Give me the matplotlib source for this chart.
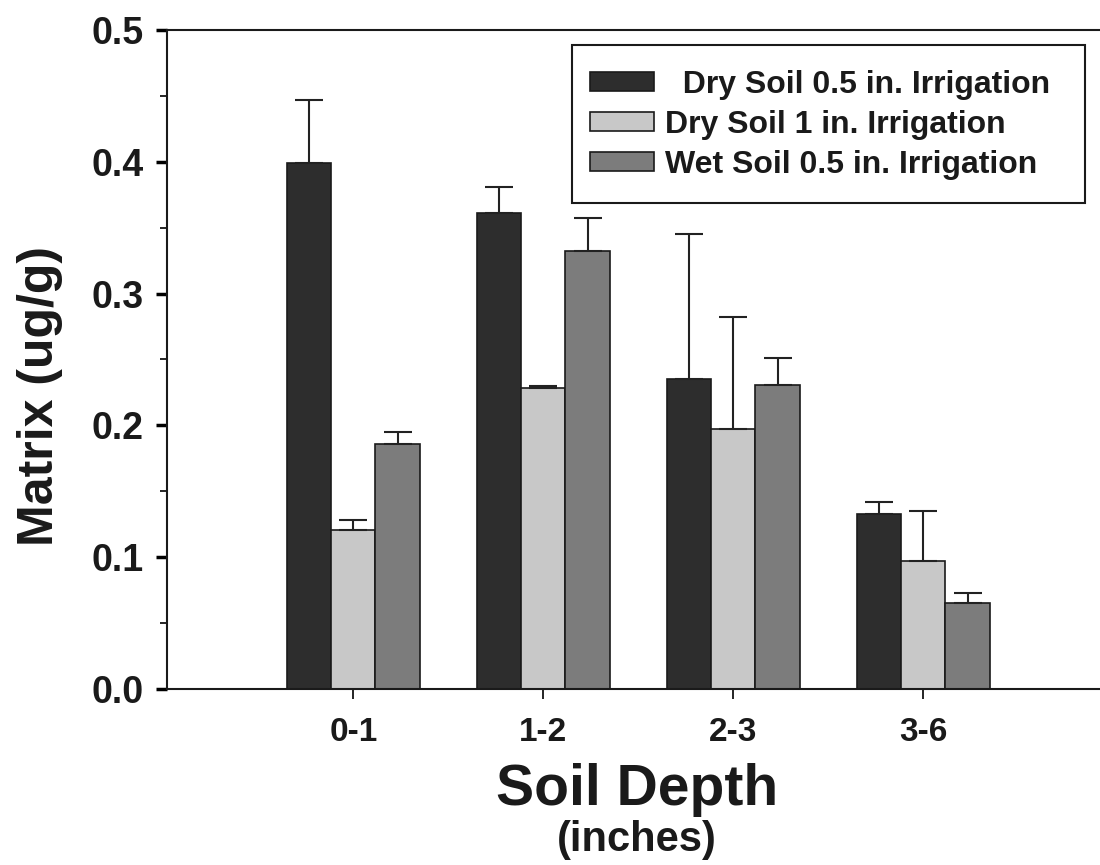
import matplotlib
matplotlib.use("Agg")
import matplotlib.pyplot as plt
import numpy as np
from matplotlib.ticker import MultipleLocator
from matplotlib.patches import Rectangle

categories = ["0-1", "1-2", "2-3", "3-6"]
series_names = ["  Dry Soil 0.5 in. Irrigation", "Dry Soil 1 in. Irrigation", "Wet Soil 0.5 in. Irrigation"]
dry_05 = [0.399, 0.361, 0.235, 0.133]
dry_05_err = [0.048, 0.020, 0.110, 0.009]
dry_1 = [0.121, 0.228, 0.197, 0.097]
dry_1_err = [0.007, 0.002, 0.085, 0.038]
wet_05 = [0.186, 0.332, 0.231, 0.065]
wet_05_err = [0.009, 0.025, 0.020, 0.008]

values = [dry_05, dry_1, wet_05]
errors = [dry_05_err, dry_1_err, wet_05_err]
colors = ["#2d2d2d", "#c8c8c8", "#7c7c7c"]

plt.rcParams['font.family'] = ['Liberation Sans', 'DejaVu Sans']
plt.rcParams['font.weight'] = 'bold'

fig = plt.figure(figsize=(11, 8.65), dpi=100)
ax = fig.add_axes([0.152, 0.2035, 0.86, 0.7618])

x = np.arange(len(categories))
w = 0.233
for i, (vals, errs, c, name) in enumerate(zip(values, errors, colors, series_names)):
    pos = x + (i - 1) * w
    ax.bar(pos, vals, width=w, color=c, edgecolor="#1a1a1a", linewidth=1.2, label=name, zorder=2)
    ax.errorbar(pos, vals, yerr=[np.zeros(len(vals)), errs], fmt="none", ecolor="#222222",
                elinewidth=1.5, capsize=10, capthick=1.5, zorder=3)

ax.set_xlim(-0.98, 4.0)
ax.set_ylim(0, 0.5)
ax.yaxis.set_major_locator(MultipleLocator(0.1))
ax.yaxis.set_minor_locator(MultipleLocator(0.05))
ax.set_yticks([0.0, 0.1, 0.2, 0.3, 0.4, 0.5])
ax.set_yticklabels(["0.0", "0.1", "0.2", "0.3", "0.4", "0.5"])
ax.set_xticks(x)
ax.set_xticklabels(categories)
ax.tick_params(axis='y', which='major', direction='out', length=8, width=2.5, labelsize=27, pad=9)
ax.tick_params(axis='y', which='minor', direction='out', length=5, width=1.2)
ax.tick_params(axis='x', which='major', direction='out', length=7, width=1.2, labelsize=24, pad=13)
for lab in ax.get_xticklabels() + ax.get_yticklabels():
    lab.set_fontweight('bold')
    lab.set_color('#1a1a1a')

ax.spines['right'].set_visible(False)
for s in ['left', 'bottom', 'top']:
    ax.spines[s].set_linewidth(1.5)
    ax.spines[s].set_color('#1a1a1a')

ax.set_ylabel("Matrix (ug/g)", fontsize=36, fontweight='bold', color='#1a1a1a')
ax.yaxis.set_label_coords(-0.11, 0.445)

fig.text(0.579, 0.087, "Soil Depth", ha='center', va='center', fontsize=41, fontweight='bold', color='#1a1a1a')
fig.text(0.579, 0.029, "(inches)", ha='center', va='center', fontsize=30, fontweight='bold', color='#1a1a1a')

# legend box
ax.add_patch(Rectangle((572/1100, 1 - 203/865), 513/1100, 158/865, transform=fig.transFigure,
                       facecolor='white', edgecolor='#1a1a1a', linewidth=1.5, zorder=5, clip_on=False))
leg = ax.legend(loc='upper left', bbox_to_anchor=(566/1100, 1 - 46/865), bbox_transform=fig.transFigure,
                fontsize=23, frameon=False,
                handlelength=2.0, handleheight=0.55, handletextpad=0.35, labelspacing=0.31,
                borderpad=0.75, borderaxespad=0)
leg.set_zorder(6)
for t in leg.get_texts():
    t.set_fontweight('bold')
    t.set_color('#1a1a1a')

fig.savefig("out.png", dpi=100)
